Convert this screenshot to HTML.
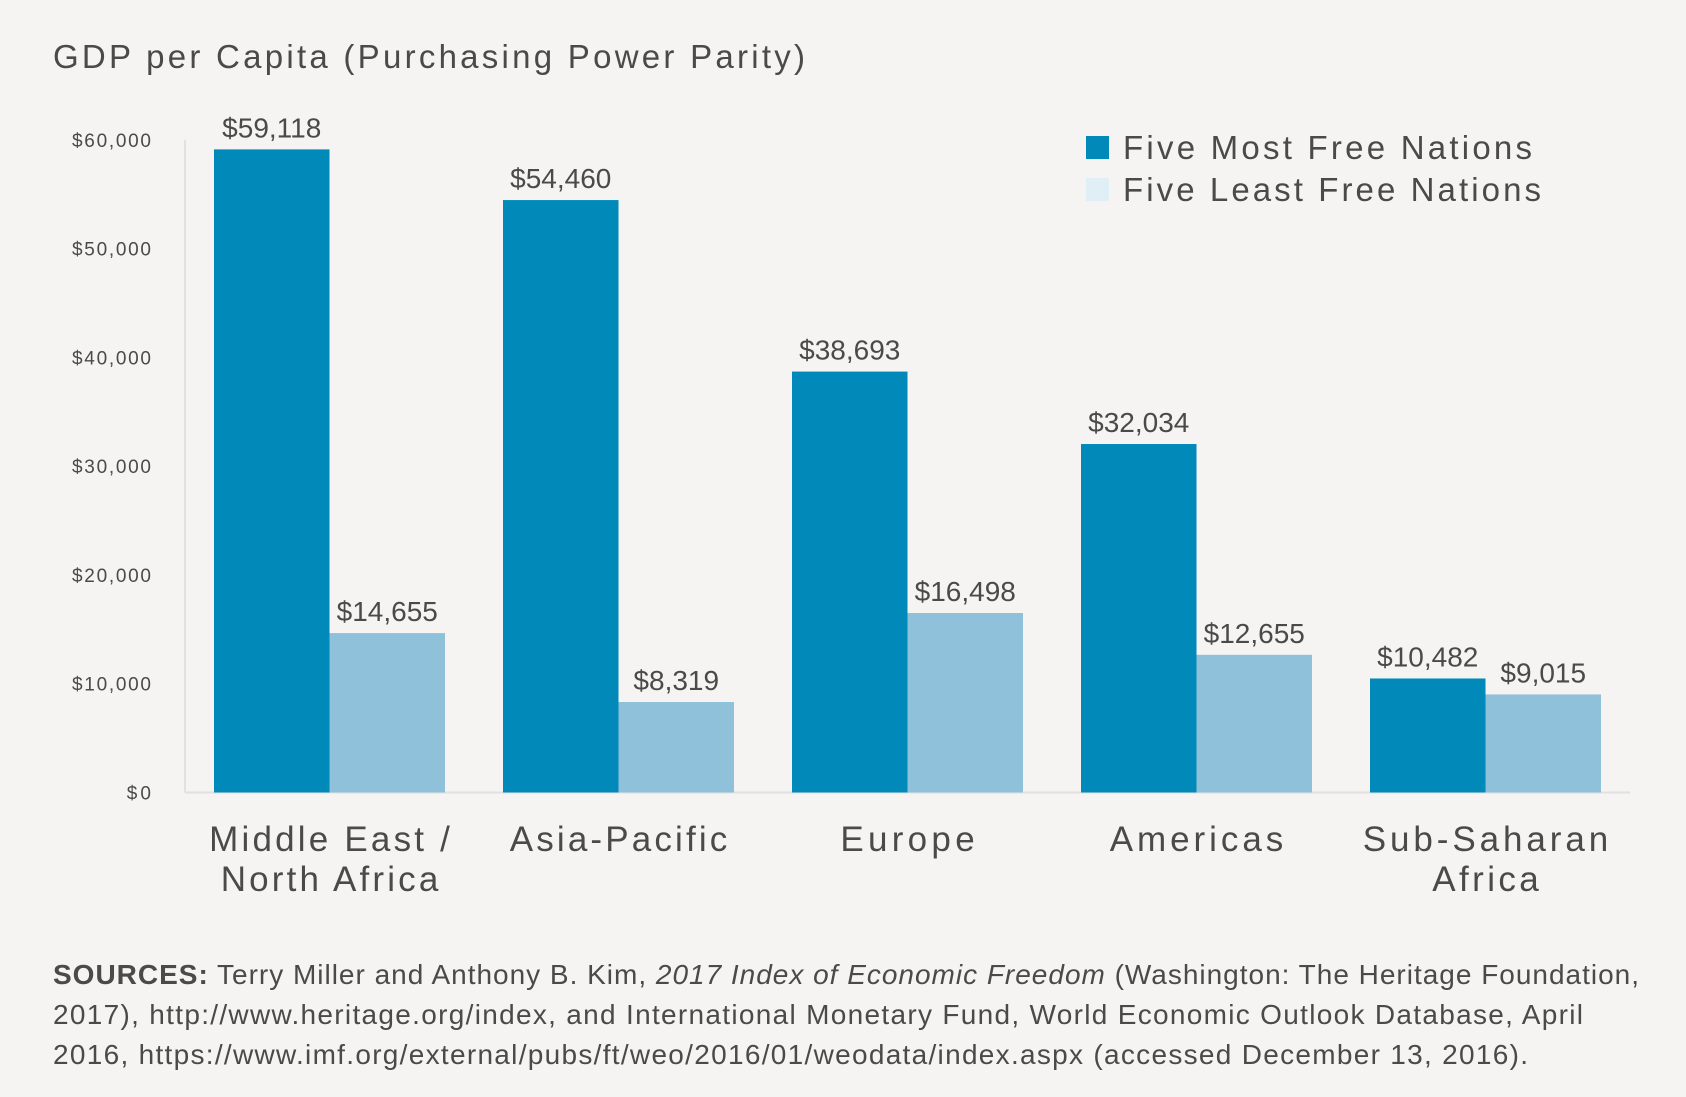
<!DOCTYPE html>
<html><head><meta charset="utf-8"><style>
body{margin:0;background:#f5f4f2;}
svg{display:block;font-family:"Liberation Sans",sans-serif;}
</style></head><body>
<svg id="c" width="1686" height="1097" viewBox="0 0 1686 1097">
<rect width="1686" height="1097" fill="#f5f4f2"/>
<text x="53" y="68" font-size="33" fill="#4a4a4a" textLength="752" lengthAdjust="spacing">GDP per Capita (Purchasing Power Parity)</text>
<g id="axes"></g><g id="bars"></g>
<g>
<rect x="1086" y="136" width="23" height="23" fill="#0089b9"/>
<text x="1123" y="159" font-size="33" fill="#4a4a4a" textLength="409" lengthAdjust="spacing">Five Most Free Nations</text>
<rect x="1086" y="178" width="23" height="23" fill="#e0eef5"/>
<text x="1123" y="201" font-size="33" fill="#4a4a4a" textLength="418" lengthAdjust="spacing">Five Least Free Nations</text>
</g>
<g font-size="28" fill="#4a4a4a">
<text x="53" y="984" textLength="1586" lengthAdjust="spacing"><tspan font-weight="bold">SOURCES:</tspan> Terry Miller and Anthony B. Kim, <tspan font-style="italic">2017 Index of Economic Freedom</tspan> (Washington: The Heritage Foundation,</text>
<text x="53" y="1024" textLength="1530" lengthAdjust="spacing">2017), http://www.heritage.org/index, and International Monetary Fund, World Economic Outlook Database, April</text>
<text x="53" y="1064" textLength="1475" lengthAdjust="spacing">2016, https://www.imf.org/external/pubs/ft/weo/2016/01/weodata/index.aspx (accessed December 13, 2016).</text>
</g>
</svg>
<script>
const categories=[["Middle East /","North Africa"],["Asia-Pacific"],["Europe"],["Americas"],["Sub-Saharan","Africa"]];
const mostFree=[59118,54460,38693,32034,10482];
const leastFree=[14655,8319,16498,12655,9015];
const ticks=[0,10000,20000,30000,40000,50000,60000];
const tickLabels=["$0","$10,000","$20,000","$30,000","$40,000","$50,000","$60,000"];
const NS="http://www.w3.org/2000/svg";
const y0=792.5,yTop=139.8,yMax=60000;
const y=v=>y0-(v/yMax)*(y0-yTop);
const gx=i=>214+i*289, bw=115.5;
function mk(t,a,p,txt){const e=document.createElementNS(NS,t);for(const k in a)e.setAttribute(k,a[k]);if(txt!==undefined)e.textContent=txt;p.appendChild(e);return e;}
function widen(e,f){const w=e.getComputedTextLength();e.setAttribute('textLength',w*f);e.setAttribute('lengthAdjust','spacing');}
const ax=document.getElementById('axes'),bg=document.getElementById('bars');
const yl=mk('line',{x1:185,x2:185,y1:y(60000),y2:y0,stroke:'#e2e1df','stroke-width':2},ax);


const xl=mk('line',{x1:185,x2:1630,y1:y0,y2:y0,stroke:'#e2e1df','stroke-width':2},ax);


ticks.forEach((t,i)=>{const e=mk('text',{x:151,y:y(t)+7,'font-size':19,fill:'#4a4a4a','text-anchor':'end'},ax,tickLabels[i]);


widen(e,1.15);});
const fmt=v=>'$'+v.toLocaleString('en-US');
categories.forEach((c,i)=>{
 [[mostFree[i],'#0089b9',0,'most'],[leastFree[i],'#8fc1da',1,'least']].forEach(([v,col,k,n])=>{
  const x=gx(i)+k*bw;
  const r=mk('rect',{x:x,y:y(v),width:bw,height:y0-y(v),fill:col},bg);
  
  
  const l=mk('text',{x:x+bw/2,y:y(v)-12,'font-size':28,fill:'#4a4a4a','text-anchor':'middle'},bg,fmt(v));
  
  
 });
 c.forEach((line,j)=>{const t=mk('text',{x:gx(i)+bw,y:851+j*40,'font-size':35,fill:'#4a4a4a','text-anchor':'middle'},ax,line);
 
 
 widen(t,1.19);});
});
</script>
</body></html>
